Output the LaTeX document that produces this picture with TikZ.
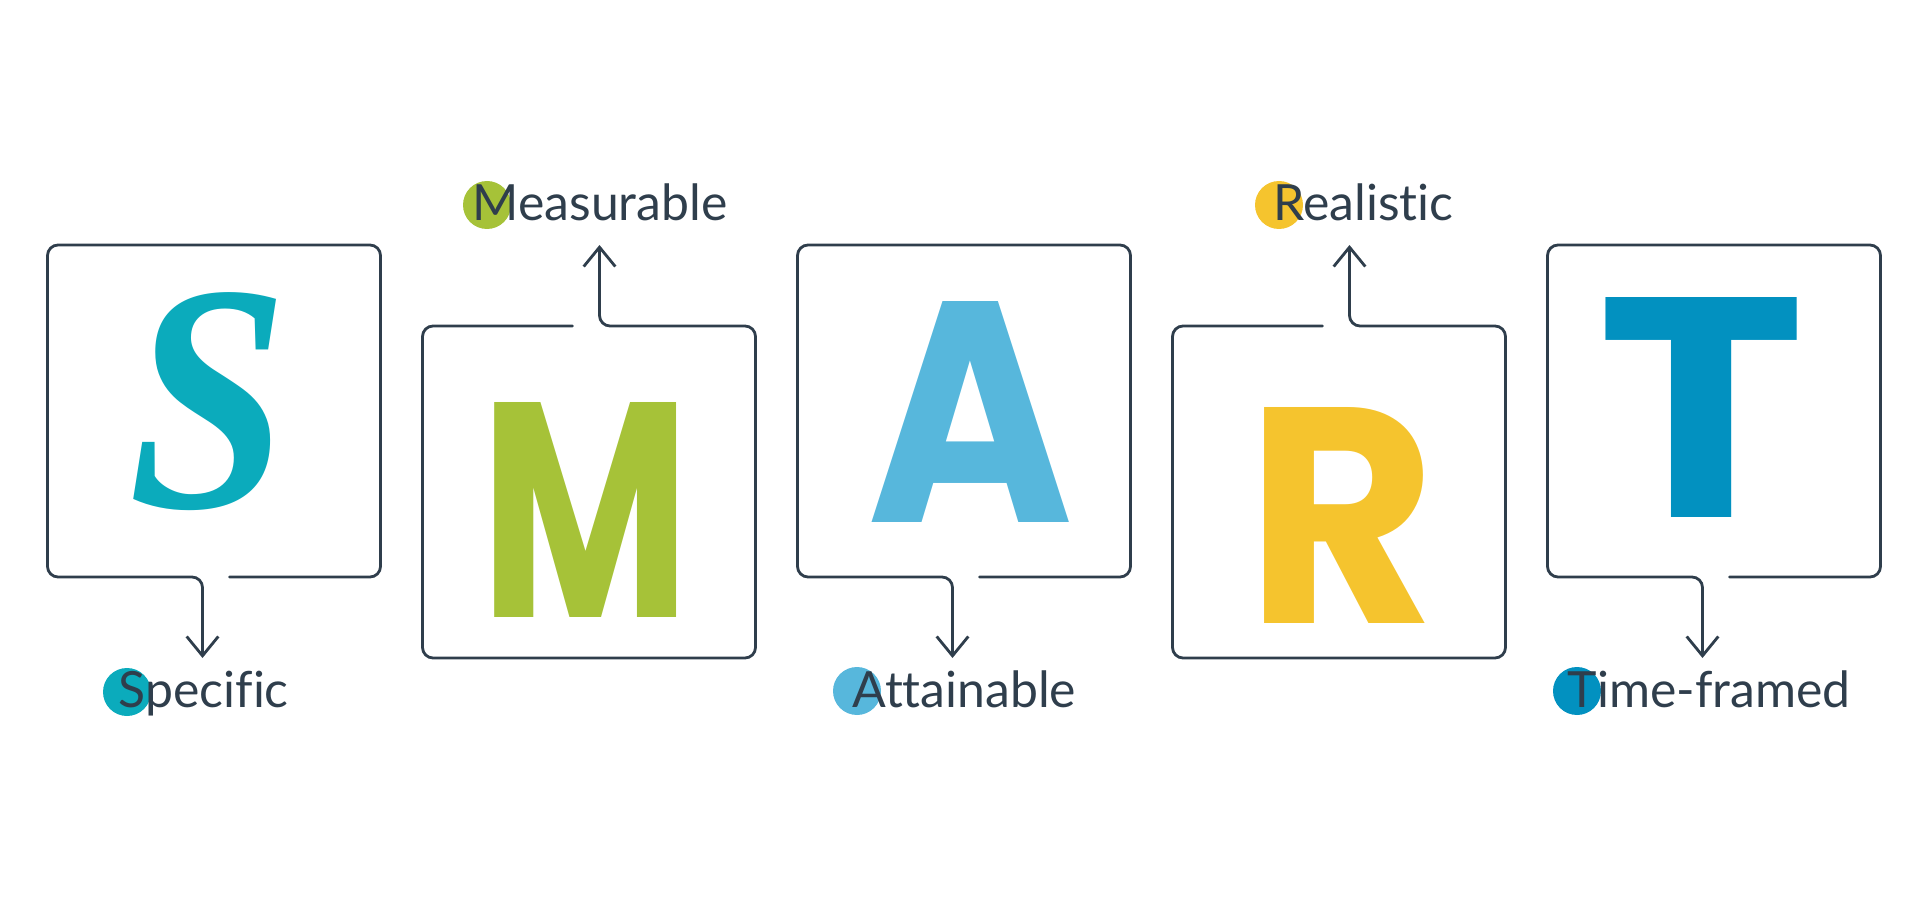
\documentclass[tikz,border=0pt]{standalone}
\usepackage{fontspec}
\usepackage{graphicx}
\newfontfamily\lblfont[Ligatures={NoCommon}]{Lato}
\newfontfamily\brushfont{Poppins}
\newfontfamily\calfont{Liberation Serif}
\usetikzlibrary{arrows.meta,calc}
\definecolor{lineC}{HTML}{2F3E4C}
\definecolor{cS}{HTML}{0BABBC}
\definecolor{cM}{HTML}{A6C238}
\definecolor{cA}{HTML}{57B7DC}
\definecolor{cR}{HTML}{F5C42E}
\definecolor{cT}{HTML}{0291C0}
\begin{document}
\begin{tikzpicture}[x=0.1mm,y=-0.1mm,
  boxnode/.style={minimum width=33.3mm,minimum height=33.2mm,inner sep=0pt,outer sep=0pt,draw=none},
  frame/.style={draw=lineC,line width=0.8pt,rounded corners=3pt,line cap=round},
  pointer/.style={-{Straight Barb[length=5.5pt,width=9pt]}},
  dot/.style={circle,inner sep=0pt,minimum size=4.8mm,draw=none},
  lbl/.style={anchor=base west,inner sep=0pt,text=lineC,font=\lblfont\fontsize{14.2pt}{17pt}\selectfont},
  big/.style={inner sep=0pt,anchor=center}
]
\useasboundingbox (0,0) rectangle (1920,903);

% boxes
\node[boxnode] (bS) at (214,411) {};
\node[boxnode] (bM) at (589,492) {};
\node[boxnode] (bA) at (964,411) {};
\node[boxnode] (bR) at (1339,492) {};
\node[boxnode] (bT) at (1714,411) {};

% pointer ends
\coordinate (tS) at ($(bS.south west)+(155,81)$);
\coordinate (tA) at ($(bA.south west)+(155,81)$);
\coordinate (tT) at ($(bT.south west)+(155,81)$);
\coordinate (tM) at ($(bM.north west)+(177,-81)$);
\coordinate (tR) at ($(bR.north west)+(177,-81)$);

% frames with pointers (top row)
\foreach \b/\t in {bS/tS,bA/tA,bT/tT}{
  \draw[frame,pointer] ($(\b.south west)+(182,0)$) -- (\b.south east) -- (\b.north east)
    -- (\b.north west) -- (\b.south west) -- ($(\b.south west)+(155,0)$) -- (\t);
}
% frames with pointers (bottom row)
\foreach \b/\t in {bM/tM,bR/tR}{
  \draw[frame,pointer] ($(\b.north west)+(150,0)$) -- (\b.north west) -- (\b.south west)
    -- (\b.south east) -- (\b.north east) -- ($(\b.north west)+(177,0)$) -- (\t);
}

% big letters
\node[big,text=cS] (LS) at (209,402) {\resizebox*{16.0mm}{21.8mm}{\calfont\bfseries\itshape S}};
\node[big,text=cM] (LM) at (585,510) {\resizebox*{21.0mm}{21.5mm}{\brushfont\bfseries M}};
\node[big,text=cA] (LA) at (971,412) {\resizebox*{20.6mm}{22.1mm}{\brushfont\bfseries A}};
\node[big,text=cR] (LR) at (1341,515) {\resizebox*{19.0mm}{21.6mm}{\brushfont\bfseries R}};
\node[big,text=cT] (LT) at (1702,407) {\resizebox*{20.8mm}{22.0mm}{\brushfont\bfseries T}};

% label dots
\node[dot,fill=cS] (dS) at (127,692) {};
\node[dot,fill=cM] (dM) at (487,205) {};
\node[dot,fill=cA] (dA) at (857,691) {};
\node[dot,fill=cR] (dR) at (1279,205) {};
\node[dot,fill=cT] (dT) at (1577,691) {};

% labels
\node[lbl] (lS) at (118,707) {Specific};
\node[lbl] (lM) at (472,221) {Measurable};
\node[lbl] (lA) at (852,707) {Attainable};
\node[lbl] (lR) at (1273,221) {Realistic};
\node[lbl] (lT) at (1567,707) {Time-framed};
\end{tikzpicture}
\end{document}
